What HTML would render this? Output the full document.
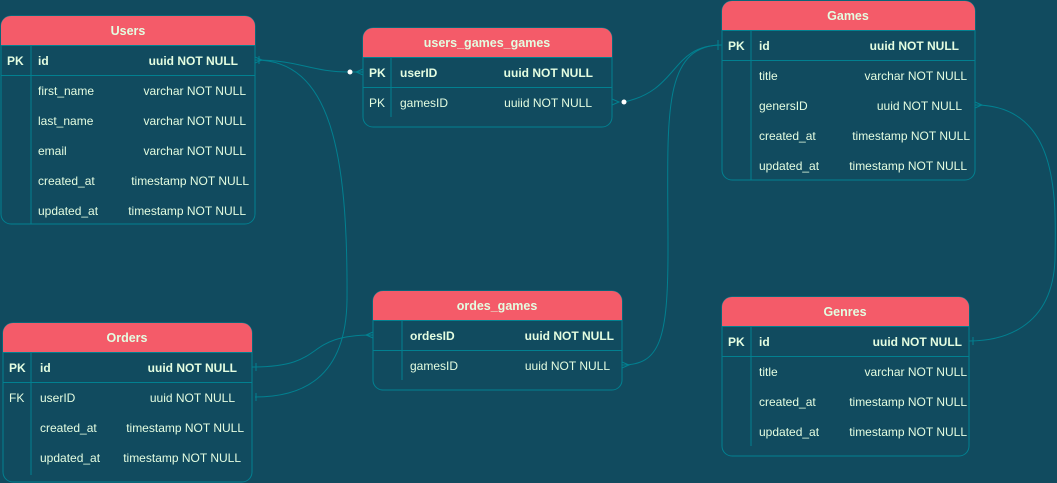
<!DOCTYPE html>
<html><head><meta charset="utf-8"><style>
html,body{margin:0;padding:0;background:#114b5f;width:1057px;height:483px;overflow:hidden}
svg{display:block}
text{font-family:"Liberation Sans",Arial,sans-serif;font-size:12px;fill:#e4fde1}
.b{font-weight:bold}
.h{font-weight:bold;fill:#e4fde1;font-size:12.5px}
.box{fill:#114b5f;stroke:#028090;stroke-width:1}
.hd{fill:#f45b69}
.ln{stroke:#028090;stroke-width:1;fill:none}
</style></head><body>
<svg width="1057" height="483" viewBox="0 0 1057 483">
<g class="ln">
<path d="M255 60 C 300 60, 310 72, 350 72 L363 72"/>
<path d="M255 60 C 330 60, 348 150, 347 300 C 346 380, 300 397, 255 397"/>
<path d="M624 102 C 680 90, 670 45, 722 45"/>
<path d="M722 45 C 660 45, 668 120, 668 250 C 668 340, 660 365, 622 365"/>
<path d="M252 367 C 330 367, 300 335, 373 335"/>
<path d="M975 105 C 1060 105, 1056 200, 1055 260 C 1052 330, 1000 341, 969 341"/>
<path d="M255 57 L262 60 L255 63 M259 56 L259 64"/>
<path d="M363 69 L356 72 L363 75"/>
<path d="M612 99 L619 102 L612 105"/>
<path d="M718 40 L718 50"/>
<path d="M975 102 L982 105 L975 108"/>
<path d="M973 337 L973 345"/>
<path d="M622 362 L629 365 L622 368"/>
<path d="M373 332 L366 335 L373 338"/>
<path d="M256 363 L256 371"/>
<path d="M256 393 L256 401"/>
</g>
<circle cx="350" cy="72" r="2.5" fill="#fff"/>
<circle cx="624" cy="102" r="2.5" fill="#fff"/>

<rect class="box" x="1" y="16" width="254" height="208" rx="10"/>
<path class="hd" d="M1 45 V26 a10 10 0 0 1 10 -10 H245 a10 10 0 0 1 10 10 V45 Z"/>
<line class="ln" x1="1" y1="45.5" x2="255" y2="45.5"/><line class="ln" x1="1" y1="75.5" x2="255" y2="75.5"/>
<line class="ln" x1="31" y1="46" x2="31" y2="224"/>
<text class="h" x="128" y="35" text-anchor="middle">Users</text>
<text class="b" x="7" y="65">PK</text><text class="b" x="38" y="65">id</text><text class="b" x="238" y="65" text-anchor="end">uuid NOT NULL</text>
<text x="38" y="95">first_name</text><text x="246" y="95" text-anchor="end">varchar NOT NULL</text>
<text x="38" y="125">last_name</text><text x="246" y="125" text-anchor="end">varchar NOT NULL</text>
<text x="38" y="155">email</text><text x="246" y="155" text-anchor="end">varchar NOT NULL</text>
<text x="38" y="185">created_at</text><text x="249" y="185" text-anchor="end">timestamp NOT NULL</text>
<text x="38" y="215">updated_at</text><text x="246" y="215" text-anchor="end">timestamp NOT NULL</text>

<rect class="box" x="363" y="28" width="249" height="99" rx="10"/>
<path class="hd" d="M363 57 V38 a10 10 0 0 1 10 -10 H602 a10 10 0 0 1 10 10 V57 Z"/>
<line class="ln" x1="363" y1="57.5" x2="612" y2="57.5"/><line class="ln" x1="363" y1="87.5" x2="612" y2="87.5"/>
<line class="ln" x1="391" y1="58" x2="391" y2="117"/>
<text class="h" x="487" y="47" text-anchor="middle">users_games_games</text>
<text class="b" x="369" y="77">PK</text><text class="b" x="400" y="77">userID</text><text class="b" x="593" y="77" text-anchor="end">uuid NOT NULL</text>
<text x="369" y="107">PK</text><text x="400" y="107">gamesID</text><text x="592" y="107" text-anchor="end">uuiid NOT NULL</text>

<rect class="box" x="722" y="1" width="253" height="179" rx="10"/>
<path class="hd" d="M722 30 V11 a10 10 0 0 1 10 -10 H965 a10 10 0 0 1 10 10 V30 Z"/>
<line class="ln" x1="722" y1="30.5" x2="975" y2="30.5"/><line class="ln" x1="722" y1="60.5" x2="975" y2="60.5"/>
<line class="ln" x1="751" y1="31" x2="751" y2="180"/>
<text class="h" x="848" y="20" text-anchor="middle">Games</text>
<text class="b" x="728" y="50">PK</text><text class="b" x="759" y="50">id</text><text class="b" x="959" y="50" text-anchor="end">uuid NOT NULL</text>
<text x="759" y="80">title</text><text x="967" y="80" text-anchor="end">varchar NOT NULL</text>
<text x="759" y="110">genersID</text><text x="962" y="110" text-anchor="end">uuid NOT NULL</text>
<text x="759" y="140">created_at</text><text x="970" y="140" text-anchor="end">timestamp NOT NULL</text>
<text x="759" y="170">updated_at</text><text x="967" y="170" text-anchor="end">timestamp NOT NULL</text>

<rect class="box" x="3" y="323" width="249" height="159" rx="10"/>
<path class="hd" d="M3 352 V333 a10 10 0 0 1 10 -10 H242 a10 10 0 0 1 10 10 V352 Z"/>
<line class="ln" x1="3" y1="352.5" x2="252" y2="352.5"/><line class="ln" x1="3" y1="382.5" x2="252" y2="382.5"/>
<line class="ln" x1="31" y1="353" x2="31" y2="475"/>
<text class="h" x="127" y="342" text-anchor="middle">Orders</text>
<text class="b" x="9" y="372">PK</text><text class="b" x="40" y="372">id</text><text class="b" x="237" y="372" text-anchor="end">uuid NOT NULL</text>
<text x="9" y="402">FK</text><text x="40" y="402">userID</text><text x="235" y="402" text-anchor="end">uuid NOT NULL</text>
<text x="40" y="432">created_at</text><text x="244" y="432" text-anchor="end">timestamp NOT NULL</text>
<text x="40" y="462">updated_at</text><text x="241" y="462" text-anchor="end">timestamp NOT NULL</text>

<rect class="box" x="373" y="291" width="249" height="99" rx="10"/>
<path class="hd" d="M373 320 V301 a10 10 0 0 1 10 -10 H612 a10 10 0 0 1 10 10 V320 Z"/>
<line class="ln" x1="373" y1="320.5" x2="622" y2="320.5"/><line class="ln" x1="373" y1="350.5" x2="622" y2="350.5"/>
<line class="ln" x1="402" y1="321" x2="402" y2="380"/>
<text class="h" x="497" y="310" text-anchor="middle">ordes_games</text>
<text class="b" x="410" y="340">ordesID</text><text class="b" x="614" y="340" text-anchor="end">uuid NOT NULL</text>
<text x="410" y="370">gamesID</text><text x="610" y="370" text-anchor="end">uuid NOT NULL</text>

<rect class="box" x="722" y="297" width="247" height="159" rx="10"/>
<path class="hd" d="M722 326 V307 a10 10 0 0 1 10 -10 H959 a10 10 0 0 1 10 10 V326 Z"/>
<line class="ln" x1="722" y1="326.5" x2="969" y2="326.5"/><line class="ln" x1="722" y1="356.5" x2="969" y2="356.5"/>
<line class="ln" x1="751" y1="327" x2="751" y2="446"/>
<text class="h" x="845" y="316" text-anchor="middle">Genres</text>
<text class="b" x="728" y="346">PK</text><text class="b" x="759" y="346">id</text><text class="b" x="962" y="346" text-anchor="end">uuid NOT NULL</text>
<text x="759" y="376">title</text><text x="967" y="376" text-anchor="end">varchar  NOT NULL</text>
<text x="759" y="406">created_at</text><text x="967" y="406" text-anchor="end">timestamp NOT NULL</text>
<text x="759" y="436">updated_at</text><text x="967" y="436" text-anchor="end">timestamp NOT NULL</text>
</svg>
</body></html>
